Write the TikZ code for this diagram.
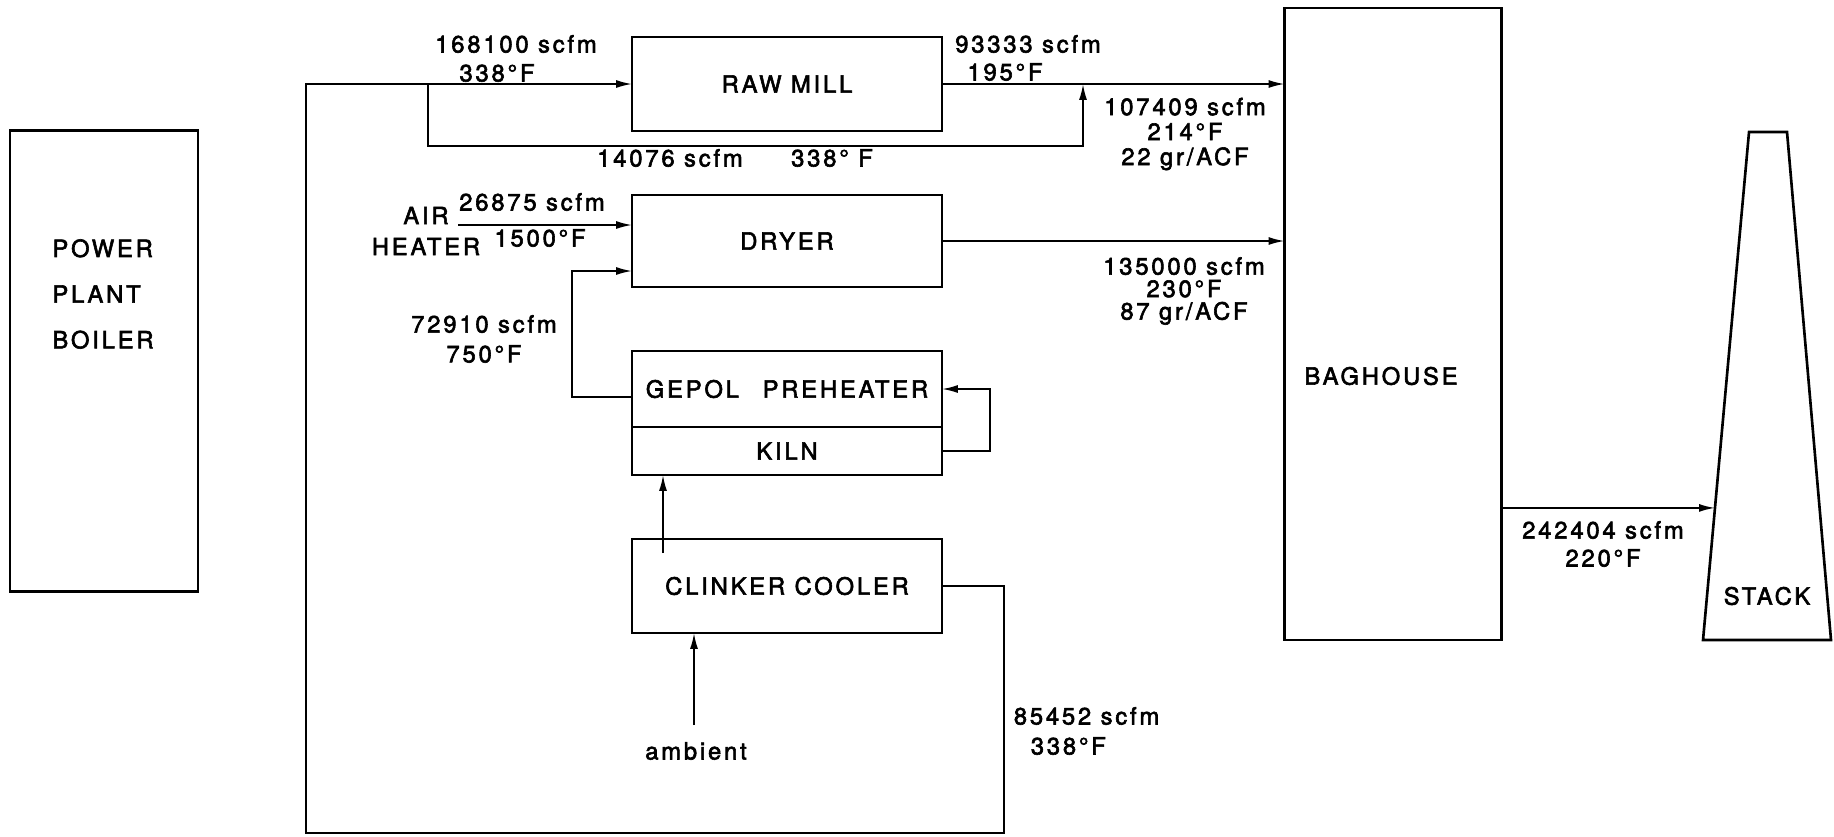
\documentclass[tikz,border=0pt]{standalone}
\usepackage{fontspec}
\setmainfont[LetterSpace=12, FakeBold=2.5]{TeX Gyre Heros}
\usetikzlibrary{positioning, calc, arrows.meta}

\begin{document}
\begin{tikzpicture}[
    >={Latex[length=9pt, width=4.5pt]},
    x=0.02cm, y=-0.02cm,
    font=\fontsize{13.5}{16}\selectfont,
    line width=1pt,
    plantbox/.style={draw, line width=1.5pt, inner sep=0pt, outer sep=0pt,
        minimum width=6.2cm},
    lbl/.style={inner sep=0pt},
    lbllines/.style={lbl, align=center, font=\fontsize{13.5}{#1}\selectfont}
]
\useasboundingbox (0,0) rectangle (1834,836);

% Define nodes
\node (boiler) [plantbox, minimum width=3.76cm, minimum height=9.22cm] at (104,361) {};
\node (boilertxt) [lbl, align=left, font=\fontsize{13.5}{26}\selectfont] at (103,294) {POWER\\PLANT\\BOILER};

\node (rawmill)   [plantbox, minimum height=1.88cm] at (787,84) {RAW MILL};
\node (dryer)     [plantbox, minimum height=1.84cm] at (787,241) {DRYER};
\node (preheater) [plantbox, minimum height=1.52cm] at (787,389) {GEPOL\quad PREHEATER};
\node (kiln)      [plantbox, minimum height=0.96cm, below=0pt of preheater] {KILN};
\node (cooler)    [plantbox, minimum height=1.88cm] at (787,586) {CLINKER COOLER};

\node (baghouse)  [plantbox, minimum width=4.34cm, minimum height=12.64cm] at (1393,324) {};
\node (baghousetxt) [lbl] at (1381,376) {BAGHOUSE};

% Stack
\coordinate (stackBL) at (1703,640);
\coordinate (stackBR) at (1831,640);
\coordinate (stackTR) at (1787,132);
\coordinate (stackTL) at (1749,132);
\draw[line width=1.5pt] (stackBL) -- (stackTL) -- (stackTR) -- (stackBR) -- cycle;
\node (stack) [lbl] at (1767,596) {STACK};
\coordinate (stackin) at ($(stackBL)!0.26!(stackTL)$);

% Main loop: clinker cooler back round to the raw mill
\coordinate (loopR) at (1004,833);
\coordinate (loopL) at (306,84);
\draw[->] (cooler.east) -| (loopR) -| (loopL) -- (rawmill.west);

% Bypass round the raw mill
\coordinate (split) at (428,84);
\coordinate (bypass) at (1083,146);
\coordinate (merge) at (1083,84);
\draw[->] (split) |- (bypass) -- (merge);
\draw[->] (rawmill.east) -- (rawmill.east -| baghouse.west);

% Dryer feeds
\coordinate (airheater) at (458,225);
\draw[->] (airheater) -- (airheater -| dryer.west);
\coordinate (riser) at (572,271);
\draw[->] ([yshift=-0.16cm]preheater.west) -| (riser) -- (riser -| dryer.west);
\draw[->] (dryer.east) -- (dryer.east -| baghouse.west);

% Kiln and cooler
\draw[->] (kiln.east) -- ++(48,0) |- (preheater.east);
\coordinate (clinkerout) at (663,553);
\draw[->] (clinkerout) -- (clinkerout |- kiln.south);
\node (ambient) [lbl] at (696,751) {ambient};
\coordinate (ambin) at (694,725);
\draw[->] (ambin) -- (ambin |- cooler.south);

% Baghouse to stack
\draw[->] (baghouse.east |- stackin) -- (stackin);

% Flow labels
\node (q1) [lbl] at (516,44) {168100 scfm};
\node (t1) [lbl] at (497,73) {338°F};
\node (q2) [lbl] at (1028,44) {93333 scfm};
\node (t2) [lbl] at (1005,72) {195°F};
\node (q3) [lbl] at (670,158) {14076 scfm};
\node (t3) [lbl] at (832,158) {338° F};
\node (air) [lbllines=17.6pt] at (426,231) {AIR\\HEATER};
\node (q4) [lbl] at (532,202) {26875 scfm};
\node (t4) [lbl] at (540,238) {1500°F};
\node (q5) [lbllines=17pt] at (484,339) {72910 scfm\\750°F};
\node (q6) [lbllines=14.2pt] at (1185,134) {107409 scfm\\214°F\\22 gr/ACF};
\node (q7) [lbllines=12.8pt] at (1184,291) {135000 scfm\\230°F\\87 gr/ACF};
\node (q8) [lbl, anchor=west] at (1013,716) {85452 scfm};
\node (t8) [lbl, anchor=west] at (1030,746) {338°F};
\node (q9) [lbllines=15.9pt] at (1603,544) {242404 scfm\\220°F};

\end{tikzpicture}
\end{document}
